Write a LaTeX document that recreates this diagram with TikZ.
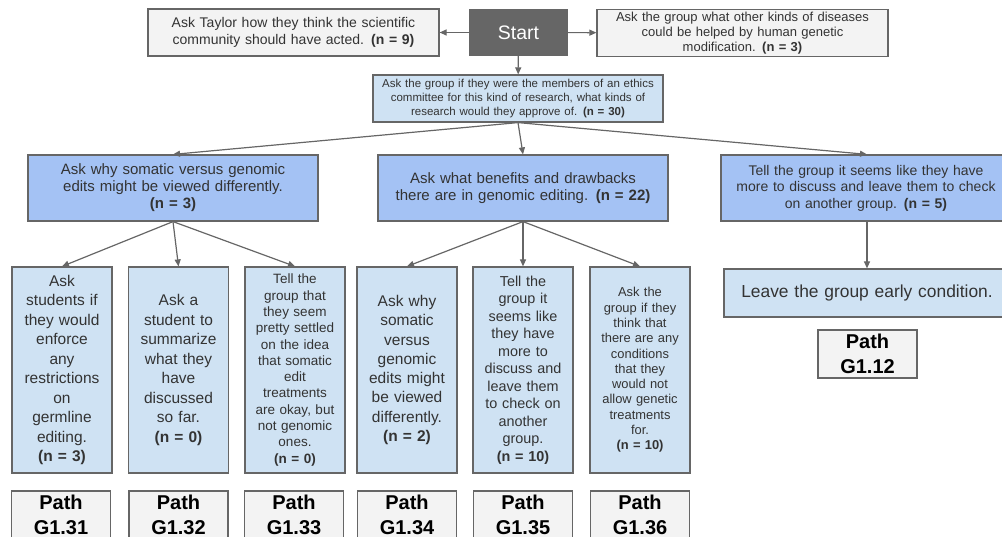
\documentclass[tikz,border=0pt]{standalone}
\usepackage{fontspec}
\setmainfont{Liberation Sans}
\usepackage{tikz}
\usetikzlibrary{arrows.meta}
\definecolor{edge}{HTML}{666666}
\definecolor{ink}{HTML}{333333}
\definecolor{greyfill}{HTML}{F3F3F3}
\definecolor{startfill}{HTML}{666666}
\definecolor{paleblue}{HTML}{CFE2F3}
\definecolor{midblue}{HTML}{A4C2F4}
\newcommand{\fs}[2]{\fontsize{#1}{#2}\selectfont}

\begin{document}
\begin{tikzpicture}[x=1pt,y=-1pt,
	box/.style={draw=edge,line width=1.2pt,align=center,inner sep=2pt,text=ink},
	greybox/.style={box,fill=greyfill},
	topbox/.style={greybox,minimum width=291pt,minimum height=47pt,text width=285pt},
	ethicbox/.style={box,fill=paleblue,minimum width=290pt,minimum height=47pt,text width=284pt,font=\fs{11.5}{14}},
	midbox/.style={box,fill=midblue,minimum width=290pt,minimum height=66pt,text width=284pt,font=\fs{15}{17}},
	colbox/.style={box,fill=paleblue,minimum width=100pt,minimum height=206pt,text width=96pt},
	pathbox/.style={greybox,minimum width=99pt,minimum height=48pt,text width=95pt,font=\bfseries\fs{20}{25},text=black},
	link/.style={draw=edge,line width=1.2pt,-{Triangle[length=7pt,width=6pt]}}]
	\useasboundingbox (0,0) rectangle (1002,537);
	\clip (0,0) rectangle (1002,537);

	\node[box,fill=startfill,draw=startfill,text=white,minimum width=97pt,minimum height=45pt,font=\fs{19.5}{22}](Start) at (518.5,32.5){Start};
	\node[topbox,font=\fs{14}{17}](Taylor) at (293.5,32.5){Ask Taylor how they think the scientific\\community should have acted. \textbf{(n = 9)}};
	\node[topbox,font=\fs{13}{15}](Diseases) at (742.5,33){Ask the group what other kinds of diseases\\could be helped by human genetic\\modification. \textbf{(n = 3)}};
	\node[ethicbox](Ethics) at (518,98.5){Ask the group if they were the members of an ethics\\committee for this kind of research, what kinds of\\research would they approve of. \textbf{(n = 30)}};

	\node[midbox](Somatic) at (173,188){Ask why somatic versus genomic\\edits might be viewed differently.\\\textbf{(n = 3)}};
	\node[midbox](Benefits) at (523,188){Ask what benefits and drawbacks\\there are in genomic editing. \textbf{(n = 22)}};
	\node[midbox,font=\fs{14}{16.5}](Tell) at (866,188){Tell the group it seems like they have\\more to discuss and leave them to check\\on another group. \textbf{(n = 5)}};

	\node[colbox,font=\fs{15.5}{19.5}](Enforce) at (62,370){Ask\\students if\\they would\\enforce\\any\\restrictions\\on\\germline\\editing.\\\textbf{(n = 3)}};
	\node[colbox,font=\fs{15.5}{19.5}](Summarize) at (178.5,370){Ask a\\student to\\summarize\\what they\\have\\discussed\\so far.\\\textbf{(n = 0)}};
	\node[colbox,font=\fs{13.5}{16.3}](Settled) at (295,370){Tell the\\group that\\they seem\\pretty settled\\on the idea\\that somatic\\edit\\treatments\\are okay, but\\not genomic\\ones.\\\textbf{(n = 0)}};
	\node[colbox,font=\fs{15.5}{19.3}](Why) at (407,370){Ask why\\somatic\\versus\\genomic\\edits might\\be viewed\\differently.\\\textbf{(n = 2)}};
	\node[colbox,font=\fs{14.4}{17.5}](Discuss) at (523,370){Tell the\\group it\\seems like\\they have\\more to\\discuss and\\leave them\\to check on\\another\\group.\\\textbf{(n = 10)}};
	\node[colbox,font=\fs{12.9}{15.3}](Conditions) at (640,370){Ask the\\group if they\\think that\\there are any\\conditions\\that they\\would not\\allow genetic\\treatments\\for.\\\textbf{(n = 10)}};

	\node[box,fill=paleblue,minimum width=286pt,minimum height=48pt,text width=280pt,font=\fs{17.4}{20}](Leave) at (867,293){Leave the group early condition.};
	\node[pathbox](P12) at (867.5,354){Path\\G1.12};

	\node[pathbox](P31) at (61,515){Path\\G1.31};
	\node[pathbox](P32) at (178.5,515){Path\\G1.32};
	\node[pathbox](P33) at (294,515){Path\\G1.33};
	\node[pathbox](P34) at (407,515){Path\\G1.34};
	\node[pathbox](P35) at (523,515){Path\\G1.35};
	\node[pathbox](P36) at (640,515){Path\\G1.36};

	\draw[link] (Start)--(Taylor);
	\draw[link] (Start)--(Diseases);
	\draw[link] (Start)--(Ethics);
	\draw[link] (Ethics.south)--(Somatic.north);
	\draw[link] (Ethics.south)--(Benefits.north);
	\draw[link] (Ethics.south)--(Tell.north-|Leave.north);
	\draw[link] (Somatic.south)--(Enforce.north);
	\draw[link] (Somatic.south)--(Summarize.north);
	\draw[link] (Somatic.south)--(Settled.north);
	\draw[link] (Benefits.south)--(Why.north);
	\draw[link] (Benefits.south)--(Discuss.north);
	\draw[link] (Benefits.south)--(Conditions.north);
	\draw[link] (Tell.south-|Leave.north)--(Leave.north);
\end{tikzpicture}
\end{document}
